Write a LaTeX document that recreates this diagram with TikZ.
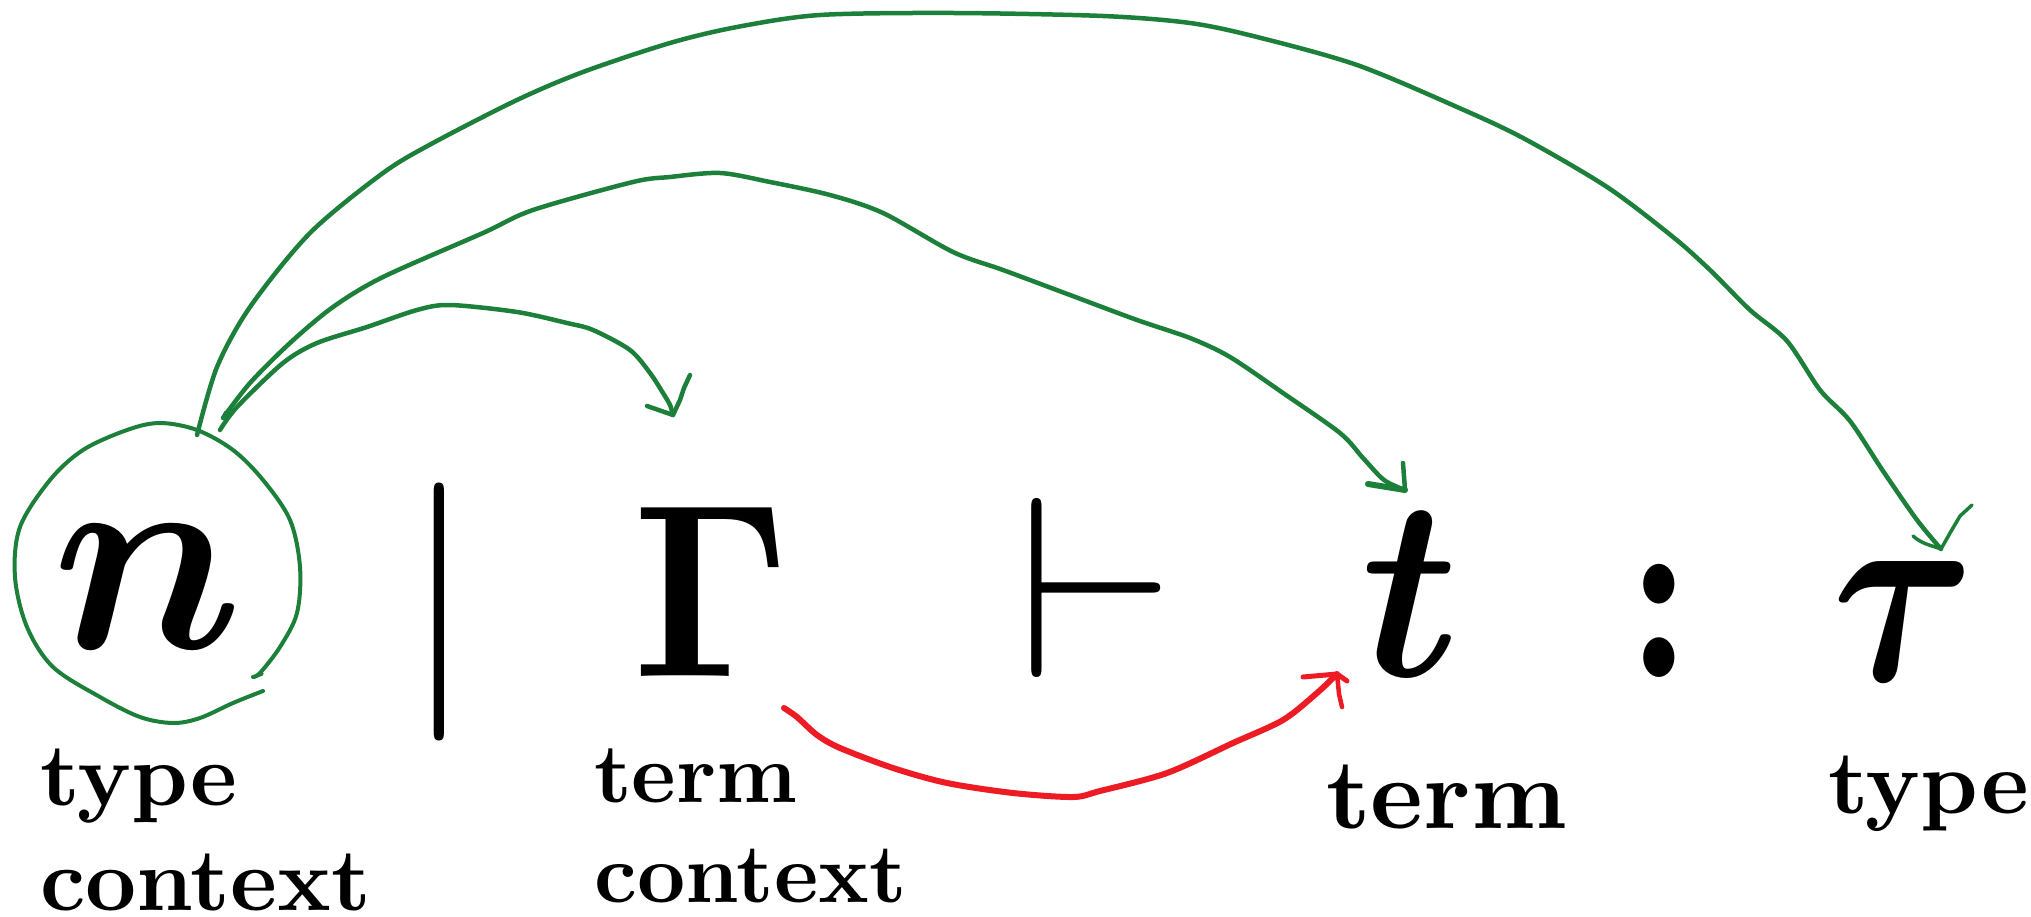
\documentclass[tikz,border=0pt]{standalone}
\usepackage{graphicx}
\usepackage{amsmath}
\usepackage{bm}
\definecolor{pengreen}{RGB}{28,128,58}
\definecolor{penred}{RGB}{237,28,36}
\newcommand{\bigmathsym}[3]{\scalebox{#1}[#2]{$#3$}}
\newcommand{\bigword}[2]{\scalebox{#1}{\textbf{#2}}}
\begin{document}
\begin{tikzpicture}[x=1pt,y=-1pt,
  sym/.style={inner sep=0pt, anchor=base},
  lbl/.style={inner sep=0pt, anchor=base west},
  gpen/.style={draw=pengreen, line width=4.5pt, line cap=round, line join=round},
  rpen/.style={draw=penred, line width=6pt, line cap=round, line join=round}]
\useasboundingbox (0,0) rectangle (2031,917);

% formula
\node[sym] (n) at (148,648) {\bigmathsym{26.8}{27.7}{\bm{n}}};
\node[sym] (bar) at (439,676) {\bigmathsym{25.8}{25.8}{\vert}};
\node[sym] (Gam) at (711,676) {\bigmathsym{22.8}{24.8}{\bm{\Gamma}}};
\node[sym] (vd) at (1096,677) {\bigmathsym{25.8}{25.8}{\vdash}};
\node[sym] (tt) at (1411,676) {\bigmathsym{23.7}{25.8}{\bm{t}}};
\node[sym] (colon) at (1659,677) {\bigmathsym{20}{25.5}{\bm{:}}};
\node[sym] (tau) at (1904,680) {\bigmathsym{21.8}{26.8}{\bm{\tau}}};

% labels
\node[lbl] (typeA) at (40,805) {\bigword{8.9}{type}};
\node[lbl] (ctxA) at (40,910) {\bigword{8.9}{context}};
\node[lbl] (termB) at (594,802) {\bigword{8.45}{term}};
\node[lbl] (ctxB) at (594,902) {\bigword{8.4}{context}};
\node[lbl] (termC) at (1326,828) {\bigword{10.0}{term}};
\node[lbl] (typeC) at (1828,813) {\bigword{9.05}{type}};

% hand-drawn circle round n
\coordinate (cs) at (263,691);
\coordinate (ce) at (253,677);
\draw[gpen, line width=4pt] plot[smooth, tension=0.55] coordinates {(cs) (233,703) (200,718) (173,723) (140,717) (100,697) (53,667) (27,627) (15,577) (20,527) (50,480) (83,450) (127,430) (160,423) (197,430) (233,450) (263,480) (290,520) (300,567) (297,613) (280,647) (260,673) (ce)};
\draw[gpen, line width=3.5pt] (ce) -- (262,674);

% short arrow: n -> Gamma
\coordinate (s1) at (220,430);
\coordinate (e1) at (673,415);
\draw[gpen] plot[smooth, tension=0.5] coordinates {(s1) (237,407) (283,363) (317,343) (367,327) (417,310) (450,305) (517,312) (567,323) (593,330) (630,350) (650,373) (663,393) (670,405) (e1)};
\draw[gpen] (647,406) -- (e1) -- (680,400) -- (684,388) -- (690,375);

% middle arrow: n -> t
\coordinate (s2) at (223,418);
\coordinate (e2) at (1405,490);
\draw[gpen] plot[smooth, tension=0.5] coordinates {(s2) (250,383) (290,343) (333,307) (383,277) (483,233) (533,210) (633,182) (670,177) (720,173) (770,182) (830,195) (883,213) (953,252) (1003,270) (1070,295) (1137,320) (1190,338) (1230,357) (1283,393) (1340,433) (1363,458) (1384,480) (e2)};
\draw[gpen, line width=6pt] (1368,484) -- (e2);
\draw[gpen] (e2) -- (1403,463);
\draw[gpen, line width=3.5pt] (s2) -- (226,412);

% outer arrow: n -> tau
\coordinate (s3) at (197,435);
\coordinate (e3) at (1941,549);
\draw[gpen] plot[smooth, tension=0.5] coordinates {(s3) (217,367) (250,307) (310,233) (383,173) (433,143) (517,100) (583,72) (670,43) (737,27) (820,15) (953,13) (1103,16) (1190,23) (1257,37) (1357,65) (1457,107) (1523,138) (1607,187) (1673,237) (1710,270) (1750,310) (1787,341) (1820,390) (1850,421) (1883,471) (1917,520) (e3)};
\draw[gpen, line width=3.5pt] (1913,536) .. controls (1922,544) and (1930,545) .. (e3) -- (1950,533) -- (1960,516) -- (1972,505);

% red arrow: Gamma -> t
\coordinate (s4) at (784,708);
\coordinate (e4) at (1337,674);
\draw[rpen] plot[smooth, tension=0.5] coordinates {(s4) (797,717) (817,735) (840,748) (893,768) (947,783) (1013,793) (1073,797) (1100,791) (1167,773) (1233,743) (1283,720) (1317,693) (e4)};
\draw[rpen, line width=5pt] (1303,677) -- (e4) -- (1347,681);
\draw[rpen, line width=4.5pt] (e4) -- (1339,694) -- (1342,707);
\end{tikzpicture}
\end{document}
